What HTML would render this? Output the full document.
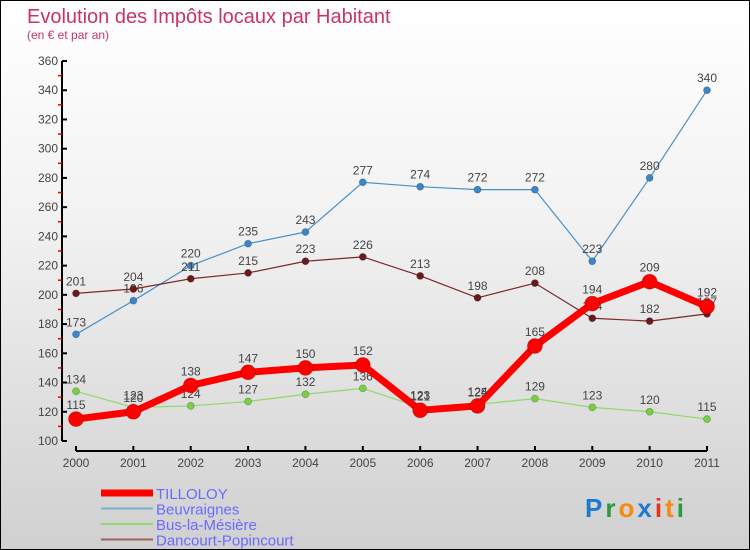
<!DOCTYPE html>
<html><head><meta charset="utf-8"><style>
body{margin:0}
#c{width:750px;height:550px;position:relative;box-sizing:border-box;border:1px solid #000;background:linear-gradient(#fff,#f2f2f2 40%,#d0d0d0);font-family:"Liberation Sans",sans-serif;overflow:hidden}
</style></head><body>
<div id="c">
<svg id="s" width="750" height="550" style="position:absolute;left:0;top:0">
<text x="26" y="22" font-size="20" fill="#c8336a">Evolution des Impôts locaux par Habitant</text>
<text x="26" y="38" font-size="12" fill="#c8336a">(en € et par an)</text>
<g id="axes"></g><g id="plot"></g><g id="legend"></g>
<text x="584" y="516" font-size="26" font-weight="bold" letter-spacing="3"><tspan fill="#1f78d1">P</tspan><tspan fill="#2a9a3a">r</tspan><tspan fill="#f7890f">o</tspan><tspan fill="#1f78d1">x</tspan><tspan fill="#e8321e">i</tspan><tspan fill="#f7890f">t</tspan><tspan fill="#2a9a3a">i</tspan></text>
</svg>
</div>
<script>
const years=[2000,2001,2002,2003,2004,2005,2006,2007,2008,2009,2010,2011];
const yTicks=[100,120,140,160,180,200,220,240,260,280,300,320,340,360];
const tilloloy=[115,120,138,147,150,152,121,124,165,194,209,192];
const beuvraignes=[173,196,220,235,243,277,274,272,272,223,280,340];
const bus=[134,123,124,127,132,136,123,125,129,123,120,115];
const dancourt=[201,204,211,215,223,226,213,198,208,184,182,187];
const NS='http://www.w3.org/2000/svg';
const X=i=>75+i*(706-75)/(years.length-1);
const Y=v=>440-(v-100)*380/260;
function mk(tag,attrs,parent){const e=document.createElementNS(NS,tag);for(const k in attrs)e.setAttribute(k,attrs[k]);parent.appendChild(e);return e;}
const ax=document.getElementById('axes'),pl=document.getElementById('plot'),lg=document.getElementById('legend');
let l=mk('line',{x1:61,y1:60,x2:61,y2:440,stroke:'#000','stroke-width':2},ax);


yTicks.forEach(v=>{
 mk('line',{x1:61,x2:66,y1:Y(v),y2:Y(v),stroke:'#000','stroke-width':2},ax);
 if(v<360)mk('line',{x1:57,x2:61,y1:Y(v+10),y2:Y(v+10),stroke:'#e00','stroke-width':1.5},ax);
 const t=mk('text',{x:57,y:Y(v)+4,'text-anchor':'end','font-size':12,fill:'#444'},ax);t.textContent=v;
 
 
});
l=mk('line',{x1:75,y1:450,x2:706,y2:450,stroke:'#000','stroke-width':2},ax);


years.forEach((yr,i)=>{
 mk('line',{x1:X(i),x2:X(i),y1:445,y2:450,stroke:'#000','stroke-width':2},ax);
 const t=mk('text',{x:X(i),y:466,'text-anchor':'middle','font-size':12,fill:'#444'},ax);t.textContent=yr;
 
 
});
const series=[
 {name:'Beuvraignes',d:beuvraignes,c:'#4a90c8',w:1.2,r:3.5,f:'#3a86c8'},
 {name:'Dancourt-Popincourt',d:dancourt,c:'#7a2a2a',w:1.2,r:3.5,f:'#6a1a1a'},
 {name:'Bus-la-Mésière',d:bus,c:'#8fd86a',w:1.2,r:3.5,f:'#7ad040'},
 {name:'TILLOLOY',d:tilloloy,c:'#f00',w:7,r:7.5,f:'#f00'}
];
series.forEach(s=>{
 const g=mk('g',{},pl);
 
 
 mk('polyline',{points:s.d.map((v,i)=>X(i)+','+Y(v)).join(' '),fill:'none',stroke:s.c,'stroke-width':s.w,'stroke-linejoin':'round'},g);
 s.d.forEach((v,i)=>{
  const c=mk('circle',{cx:X(i),cy:Y(v),r:s.r,fill:s.f,stroke:'rgba(0,0,0,0.25)','stroke-width':0.8},g);
  
  
  const t=mk('text',{x:X(i),y:Y(v)-(s.w>2?10:8),'text-anchor':'middle','font-size':12,fill:'#444'},g);t.textContent=v;
  
  
 });
});
const leg=[['TILLOLOY','#f00',7],['Beuvraignes','#7ab0d0',2],['Bus-la-Mésière','#8fd86a',2],['Dancourt-Popincourt','#a06060',2]];
leg.forEach((e,i)=>{
 const y=492+i*15.5;
 const g=mk('g',{},lg);
 
 
 mk('line',{x1:100,x2:152,y1:y,y2:y,stroke:e[1],'stroke-width':e[2]},g);
 const t=mk('text',{x:155,y:y+6,'font-size':15,fill:'#6a6aff'},g);t.textContent=e[0];
});
</script>
</body></html>
